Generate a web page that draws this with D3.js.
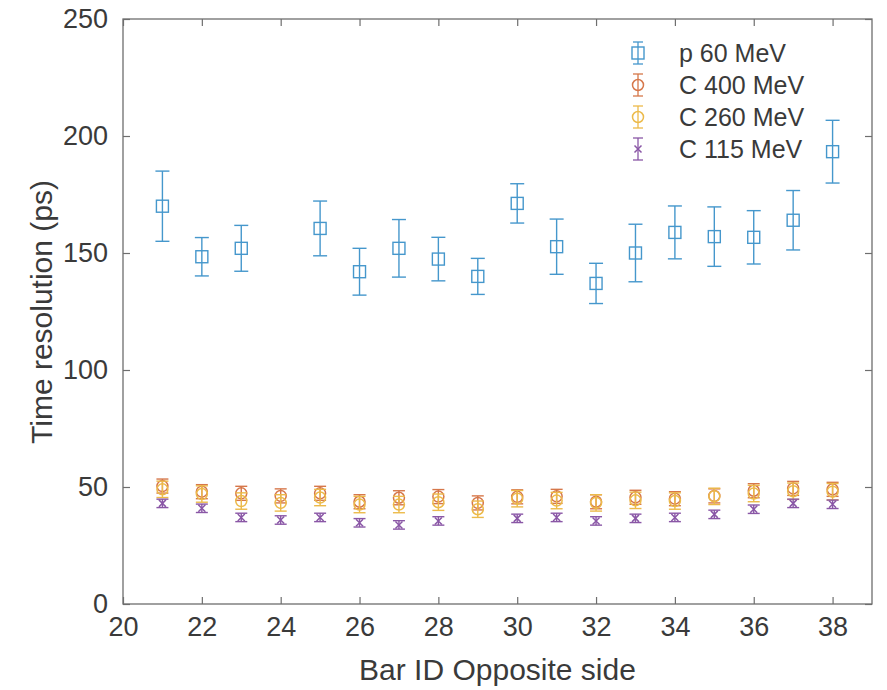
<!DOCTYPE html>
<html>
<head>
<meta charset="utf-8">
<script src="https://cdn.jsdelivr.net/npm/d3@7"></script>
<style>
  body { margin: 0; background: #fff; }
  text { font-family: "Liberation Sans", Arial, sans-serif; fill: #3a3a3a; }
</style>
</head>
<body>
<script>
// chart size
var svgWidth = 887;
var svgHeight = 690;

// plot box in pixels
var box = { left: 123, right: 872, top: 19, bottom: 604 };

// data
var barIds = [21, 22, 23, 24, 25, 26, 27, 28, 29, 30, 31, 32, 33, 34, 35, 36, 37, 38];

var p60 = [170, 148.4, 152, null, 160.5, 142, 152, 147.4, 140, 171.2, 152.7, 137, 150, 158.8, 157, 156.7, 164, 193.3];
var p60Err = [15, 8.2, 9.8, null, 11.7, 10, 12.3, 9.3, 7.7, 8.4, 11.8, 8.6, 12.3, 11.3, 12.7, 11.4, 12.7, 13.4];

var c400 = [50.4, 48, 47.3, 46.2, 47.3, 43.7, 45.4, 45.9, 43.2, 45.8, 46, 43.7, 45.6, 45, 46.2, 48.4, 49.4, 49];
var c400Err = [3, 3, 3, 3, 3, 3, 3, 3, 3, 3, 3, 3, 3, 3, 3, 3, 3, 3];

var c260 = [49, 47, 44, 43.2, 45.5, 42.5, 42.5, 43.5, 40.5, 45, 44.2, 43.2, 44.3, 44, 46, 47.2, 48.2, 48];
var c260Err = [3.5, 3.5, 3.5, 3.5, 3.5, 3.5, 3.5, 3.5, 3.5, 3.5, 3.5, 3.5, 3.5, 3.5, 3.5, 3.5, 3.5, 3.5];

var c115 = [43, 40.9, 37, 35.9, 37, 34.7, 33.8, 35.5, null, 36.6, 37, 35.5, 36.6, 37, 38.3, 40.5, 43, 42.6];
var c115Err = [1.8, 1.8, 1.8, 1.8, 1.8, 1.8, 1.8, 1.8, null, 1.8, 1.8, 1.8, 1.8, 1.8, 1.8, 1.8, 1.8, 1.8];

var xTicks = [20, 22, 24, 26, 28, 30, 32, 34, 36, 38];
var yTicks = [0, 50, 100, 150, 200, 250];

var seriesNames = ["p 60 MeV", "C 400 MeV", "C 260 MeV", "C 115 MeV"];
var seriesColors = ["#4597cc", "#d6774a", "#ecba4a", "#8a57a6"];
var seriesMarkers = ["square", "circle", "circle", "cross"];

var series = [
  { name: seriesNames[0], vals: p60, errs: p60Err },
  { name: seriesNames[1], vals: c400, errs: c400Err },
  { name: seriesNames[2], vals: c260, errs: c260Err },
  { name: seriesNames[3], vals: c115, errs: c115Err }
];
series.forEach(function(s, i) {
  s.color = seriesColors[i];
  s.marker = seriesMarkers[i];
  s.points = barIds.map(function(b, j) {
    return { x: b, y: s.vals[j], e: s.errs[j] };
  }).filter(function(d) { return d.y !== null; });
});

var svg = d3.select("body")
  .append("svg")
  .attr("width", svgWidth)
  .attr("height", svgHeight);

var xScale = d3.scaleLinear().domain([20, 39]).range([box.left, box.right]);
var yScale = d3.scaleLinear().domain([0, 250]).range([box.bottom, box.top]);

var axisColor = "#6e6e6e";
var tickLen = 7;

// frame
svg.append("rect")
  .attr("x", box.left).attr("y", box.top)
  .attr("width", box.right - box.left).attr("height", box.bottom - box.top)
  .attr("fill", "none").attr("stroke", axisColor).attr("stroke-width", 1.3);

// axes (ticks inward, mirrored on top/right)
var bottomAxis = svg.append("g")
  .attr("transform", `translate(0, ${box.bottom})`)
  .call(d3.axisBottom(xScale).tickValues(xTicks).tickSizeInner(-tickLen).tickSizeOuter(0).tickPadding(13));
var topAxis = svg.append("g")
  .attr("transform", `translate(0, ${box.top})`)
  .call(d3.axisTop(xScale).tickValues(xTicks).tickSizeInner(-tickLen).tickSizeOuter(0).tickFormat(""));
var leftAxis = svg.append("g")
  .attr("transform", `translate(${box.left}, 0)`)
  .call(d3.axisLeft(yScale).tickValues(yTicks).tickSizeInner(-tickLen).tickSizeOuter(0).tickPadding(15));
var rightAxis = svg.append("g")
  .attr("transform", `translate(${box.right}, 0)`)
  .call(d3.axisRight(yScale).tickValues(yTicks).tickSizeInner(-tickLen).tickSizeOuter(0).tickFormat(""));

[bottomAxis, topAxis, leftAxis, rightAxis].forEach(function(ax) {
  ax.select(".domain").remove();
  ax.selectAll("line").attr("stroke", axisColor).attr("stroke-width", 1.2);
  ax.selectAll("text").attr("font-size", "27px").attr("fill", "#3a3a3a");
});
bottomAxis.selectAll("text").attr("dy", "0.71em");

// axis titles
svg.append("text")
  .attr("x", (box.left + box.right) / 2)
  .attr("y", 680)
  .attr("text-anchor", "middle")
  .attr("font-size", "30px")
  .text("Bar ID Opposite side");

svg.append("text")
  .attr("transform", "translate(52, 312) rotate(-90)")
  .attr("text-anchor", "middle")
  .attr("font-size", "30px")
  .text("Time resolution (ps)");

// draw a marker of given type
function drawMarker(g, type, color) {
  if (type === "square") {
    g.append("rect").attr("x", -6).attr("y", -6).attr("width", 12).attr("height", 12)
      .attr("fill", "none").attr("stroke", color).attr("stroke-width", 1.4);
  } else if (type === "circle") {
    g.append("circle").attr("r", 5.5)
      .attr("fill", "none").attr("stroke", color).attr("stroke-width", 1.5);
  } else {
    g.append("path").attr("d", "M-3.5,-3.5L3.5,3.5M-3.5,3.5L3.5,-3.5")
      .attr("fill", "none").attr("stroke", color).attr("stroke-width", 1.5);
  }
}

// error bars and markers
var capHalf = { square: 7, circle: 6, cross: 6 };
series.forEach(function(s) {
  var grp = svg.append("g").attr("class", "series");
  s.points.forEach(function(d) {
    var cx = xScale(d.x);
    var g = grp.append("g");
    g.append("line")
      .attr("x1", cx).attr("x2", cx)
      .attr("y1", yScale(d.y - d.e)).attr("y2", yScale(d.y + d.e))
      .attr("stroke", s.color).attr("stroke-width", 1.4);
    [d.y - d.e, d.y + d.e].forEach(function(v) {
      g.append("line")
        .attr("x1", cx - capHalf[s.marker]).attr("x2", cx + capHalf[s.marker])
        .attr("y1", yScale(v)).attr("y2", yScale(v))
        .attr("stroke", s.color).attr("stroke-width", 1.4);
    });
    var m = g.append("g").attr("transform", `translate(${cx}, ${yScale(d.y)})`);
    drawMarker(m, s.marker, s.color);
  });
});

// legend
var legendRows = [53, 85, 117, 149];
var legend = svg.append("g");
series.forEach(function(s, i) {
  var row = legend.append("g").attr("transform", `translate(638, ${legendRows[i]})`);
  row.append("line").attr("x1", 0).attr("x2", 0).attr("y1", -11).attr("y2", 11)
    .attr("stroke", s.color).attr("stroke-width", 1.3);
  [-11, 11].forEach(function(v) {
    row.append("line").attr("x1", -5).attr("x2", 5).attr("y1", v).attr("y2", v)
      .attr("stroke", s.color).attr("stroke-width", 1.3);
  });
  drawMarker(row, s.marker, s.color);
  row.append("text")
    .attr("x", 41).attr("y", 0).attr("dy", "0.35em")
    .attr("font-size", "25px")
    .text(s.name);
});
</script>
</body>
</html>
